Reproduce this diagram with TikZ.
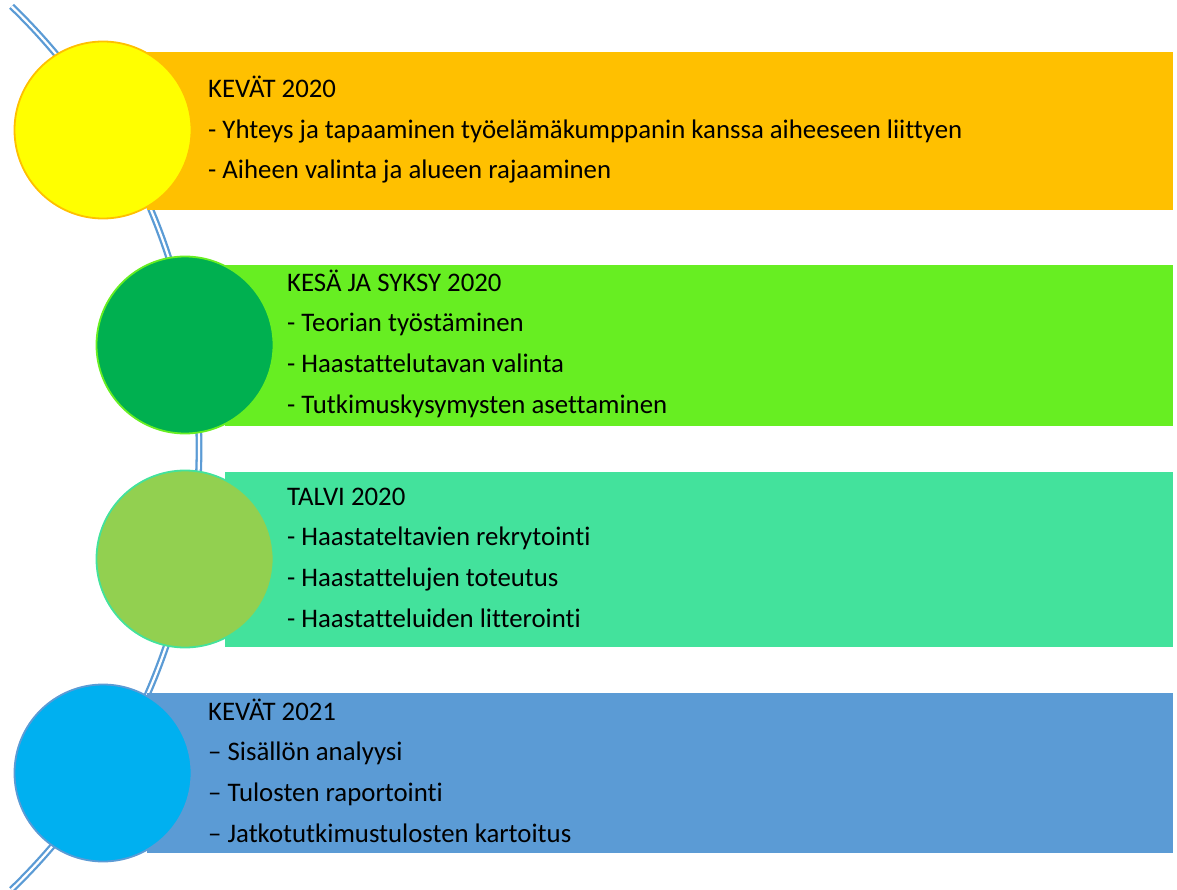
\documentclass[tikz,border=0pt]{standalone}
\usepackage{fontspec}
\setmainfont{Carlito}[Ligatures=NoCommon]
\usetikzlibrary{positioning}

\definecolor{orangebar}{HTML}{FFC000}
\definecolor{yellowball}{HTML}{FFFF00}
\definecolor{limebar}{HTML}{67EE22}
\definecolor{greenball}{HTML}{00B050}
\definecolor{mintbar}{HTML}{43E29C}
\definecolor{oliveball}{HTML}{92D050}
\definecolor{bluebar}{HTML}{5B9BD5}
\definecolor{skyball}{HTML}{00B0F0}

\begin{document}
\begin{tikzpicture}[x=1pt,y=-1pt,
      bar/.style={rectangle,anchor=north west,inner sep=0pt,minimum width=1026pt},
      ball/.style={circle,inner sep=0pt,minimum size=177pt,line width=1.8pt},
      phase text/.style={anchor=base west,align=left,inner sep=0pt,
        font=\fontsize{26.8}{40.6}\selectfont}]

  \useasboundingbox (0,0) rectangle (1177,890);

  % the time line behind everything
  \draw[bluebar,line width=2.3pt,double=white,double distance=2.2pt]
    (-415,448) ++(46:614) arc[start angle=46,end angle=-46,radius=614];

  % bars
  \node[bar,fill=orangebar,minimum height=158pt] (bar1) at (147,52) {};
  \node[bar,fill=limebar,minimum height=161pt,minimum width=948pt] (bar2) at (225,265) {};
  \node[bar,fill=mintbar,minimum height=175pt,minimum width=948pt] (bar3) at (225,472) {};
  \node[bar,fill=bluebar,minimum height=160pt] (bar4) at (147,693) {};

  % balls
  \node[ball,draw=orangebar,fill=yellowball] (ball1) at (103,130) {};
  \node[ball,draw=limebar,fill=greenball] (ball2) at (185,345) {};
  \node[ball,draw=mintbar,fill=oliveball] (ball3) at (185,559) {};
  \node[ball,draw=bluebar,fill=skyball] (ball4) at (103,773) {};

  % texts, placed at the baseline of their last line
  \node[phase text] (text1) at (208,179) {KEVÄT 2020\\
    - Yhteys ja tapaaminen työelämäkumppanin kanssa aiheeseen liittyen\\
    - Aiheen valinta ja alueen rajaaminen};
  \node[phase text] (text2) at (287,413) {KESÄ JA SYKSY 2020\\
    - Teorian työstäminen\\
    - Haastattelutavan valinta\\
    - Tutkimuskysymysten asettaminen};
  \node[phase text] (text3) at (287,627) {TALVI 2020\\
    - Haastateltavien rekrytointi\\
    - Haastattelujen toteutus\\
    - Haastatteluiden litterointi};
  \node[phase text] (text4) at (208,842) {KEVÄT 2021\\
    – Sisällön analyysi\\
    – Tulosten raportointi\\
    – Jatkotutkimustulosten kartoitus};
\end{tikzpicture}
\end{document}
